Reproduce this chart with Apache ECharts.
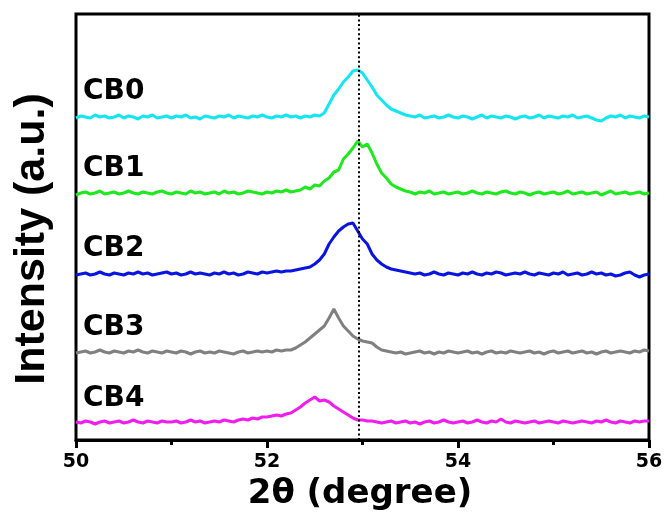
<!DOCTYPE html>
<html>
<head>
<meta charset="utf-8">
<script src="https://cdn.jsdelivr.net/npm/echarts@6/dist/echarts.min.js"></script>
<style>html,body{margin:0;padding:0;background:#fff;}#chart{width:670px;height:527px;}</style>
</head>
<body>
<div id="chart"></div>
<script>
// 2θ sampling grid (degrees)
const angleStart = 50;
const angleStep = 0.05;
const xTicks = [50, 52, 54, 56];
const seriesNames = ['CB0', 'CB1', 'CB2', 'CB3', 'CB4'];
const markerAngle = 52.96;

// Intensity (a.u., vertically offset traces), one value per 0.05° from 50 to 56
const cb0 = [
  322,324,323,322,325,323,324,322,323,325,322,324,323,321,324,323,325,322,323,324,
  322,324,323,325,322,323,321,324,323,322,324,323,325,322,324,323,322,324,323,325,
  323,322,324,323,325,323,324,322,324,323,325,324,327,336,345,351,358,363,369,370,
  367,360,353,345,340,335,331,329,327,325,324,323,325,322,323,324,322,323,325,323,
  322,324,323,321,323,325,322,324,323,322,324,323,321,323,324,322,323,325,322,324,
  323,322,324,323,325,322,323,324,322,320,319,322,324,323,325,322,324,323,322,324,
  323
];
const cb1 = [
  245,247,248,246,247,249,246,247,248,246,247,249,247,246,248,247,246,248,249,247,
  246,248,247,246,249,247,248,246,247,248,246,249,247,248,246,247,249,248,247,246,
  248,247,249,248,250,248,249,250,253,251,255,254,259,262,268,270,281,286,292,299,
  293,296,287,276,267,262,256,253,251,249,248,246,248,247,249,246,247,248,246,247,
  248,246,247,249,247,246,248,247,246,248,249,247,246,248,247,245,247,248,246,247,
  248,246,247,249,246,247,248,246,247,248,245,247,249,246,247,248,246,247,248,246,
  247
];
const cb2 = [
  165,166,167,165,166,168,166,165,167,166,165,167,166,168,166,167,165,166,167,168,
  166,167,165,166,168,166,167,166,165,167,166,168,166,167,165,166,168,167,166,168,
  167,168,169,168,169,169,170,171,172,173,176,180,186,196,203,209,213,216,217,209,
  201,196,186,180,176,173,171,170,169,168,167,166,167,165,166,168,166,165,167,166,
  165,167,166,168,166,165,167,166,168,167,165,166,167,166,168,166,165,167,166,165,
  167,166,168,165,166,167,165,166,168,166,167,165,166,164,165,167,168,165,163,165,
  166
];
const cb3 = [
  87,88,89,87,88,90,88,87,89,88,87,89,88,90,88,87,89,88,87,89,
  88,87,89,88,86,88,89,87,88,87,89,88,87,86,88,89,87,88,89,88,
  89,88,90,89,90,90,92,95,98,102,106,110,114,122,131,122,114,109,104,101,
  99,98,97,93,90,89,88,87,88,86,87,88,89,87,88,86,88,87,89,88,
  87,88,89,87,88,86,88,89,87,88,87,89,88,87,88,89,87,88,86,88,
  89,87,88,89,87,88,89,87,88,86,88,89,87,88,89,88,87,89,88,90,
  89
];
const cb4 = [
  18,17,19,18,16,18,19,17,18,19,17,18,20,18,17,19,18,17,19,18,
  18,19,17,18,20,18,19,17,18,19,18,20,19,18,20,21,20,22,21,23,
  23,24,25,24,26,27,30,33,37,40,43,39,40,38,34,31,28,25,22,20,
  20,19,19,18,17,18,19,17,18,19,17,18,16,18,19,17,18,20,18,17,
  18,19,17,18,20,18,17,19,18,21,18,17,19,18,17,18,19,17,18,19,
  18,17,19,18,17,18,19,18,17,19,18,20,18,17,19,18,17,19,18,19,
  19
];
const seriesValues = [cb0, cb1, cb2, cb3, cb4];
const colors = ['#12E6F2', '#1EE81E', '#0A14E0', '#808080', '#F01CF0'];

function toPairs(vals) {
  return vals.map((v, i) => [+(angleStart + i * angleStep).toFixed(2), v]);
}

const chart = echarts.init(document.getElementById('chart'), null, { renderer: 'canvas' });

const series = seriesValues.map((vals, k) => ({
  name: seriesNames[k],
  type: 'line',
  data: toPairs(vals),
  showSymbol: false,
  symbol: 'none',
  smooth: false,
  lineStyle: { color: colors[k], width: 3 },
  z: 3,
  animation: false
}));

series.push({
  type: 'line',
  data: [],
  markLine: {
    silent: true,
    symbol: ['none', 'none'],
    label: { show: false },
    lineStyle: { color: '#000', width: 2, type: [2, 2.6] },
    data: [{ xAxis: markerAngle }],
    animation: false
  },
  z: 2
});

const labelFont = 'DejaVu Sans';
const labelY = [95, 172, 252, 331, 402];

chart.setOption({
  backgroundColor: '#fff',
  animation: false,
  grid: {
    left: 76, right: 21, top: 14, bottom: 87,
    show: true, borderColor: '#000', borderWidth: 3, backgroundColor: 'transparent'
  },
  xAxis: {
    type: 'value',
    min: 50, max: 56, interval: 2,
    axisLine: { show: true, lineStyle: { color: '#000', width: 3 } },
    axisTick: { show: true, inside: false, length: 8, lineStyle: { color: '#000', width: 3 } },
    minorTick: { show: true, splitNumber: 2, length: 5, lineStyle: { color: '#000', width: 3 } },
    splitLine: { show: false },
    axisLabel: {
      color: '#000', fontFamily: labelFont, fontWeight: 'bold', fontSize: 19, margin: 13,
      formatter: v => (xTicks.indexOf(v) >= 0 ? String(v) : '')
    }
  },
  yAxis: {
    type: 'value', min: 0, max: 426,
    show: false,
    splitLine: { show: false }
  },
  series: series,
  graphic: [
    ...seriesNames.map((n, k) => ({
      type: 'text', left: 83, top: labelY[k] - 17,
      style: { text: n, font: 'bold 28px "DejaVu Sans"', fill: '#000' }
    })),
    {
      type: 'text', x: 360, y: 494, 
      style: { text: '2θ (degree)', font: 'bold 34px "DejaVu Sans"', fill: '#000', align: 'center', verticalAlign: 'middle' }
    },
    {
      type: 'text', x: 32, y: 239, rotation: Math.PI / 2,
      style: { text: 'Intensity (a.u.)', font: 'bold 43px "Liberation Sans"', fill: '#000', align: 'center', verticalAlign: 'middle' }
    }
  ]
});
</script>
</body>
</html>
